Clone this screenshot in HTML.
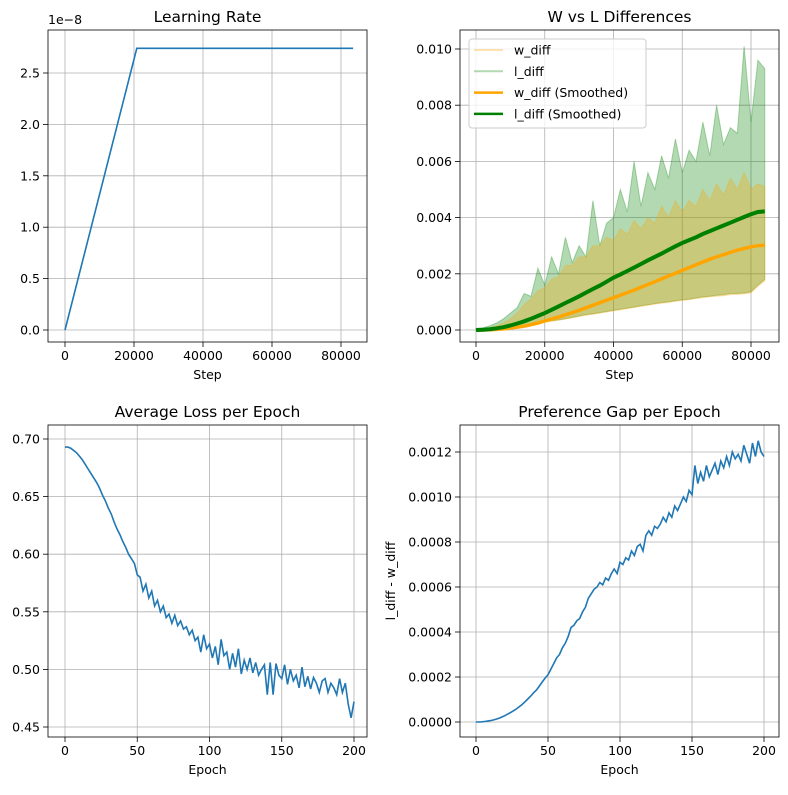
<!DOCTYPE html>
<html><head><meta charset="utf-8"><style>
body{margin:0;background:#fff;}
svg text{font-family:"DejaVu Sans","Liberation Sans",sans-serif;fill:#000;}
</style></head><body>
<svg id="fig" width="788" height="790" xmlns="http://www.w3.org/2000/svg"></svg>
<script>
// ---- data ----
const lrSteps=[0,20800,83500];
const lrVals=[0,2.74,2.74];
const diffSteps=[];for(let i=0;i<=42;i++)diffSteps.push(i*2000);
const lUpper=[0.05,0.08,0.15,0.25,0.4,0.6,0.8,1.3,1.2,2.2,1.6,2.6,2.0,3.3,2.4,3.0,2.6,4.6,3.0,3.8,4.0,5.0,4.2,6.0,4.4,5.6,5.0,6.2,5.4,6.8,5.6,6.4,6.0,7.4,6.2,8.0,6.6,7.2,7.0,10.1,7.4,9.6,9.3];
const lLower=[0,0.01,0.02,0.04,0.06,0.09,0.12,0.16,0.2,0.25,0.3,0.33,0.36,0.4,0.45,0.5,0.55,0.58,0.62,0.66,0.7,0.74,0.78,0.82,0.86,0.9,0.94,0.98,1.0,1.04,1.08,1.1,1.14,1.18,1.2,1.24,1.26,1.3,1.3,1.32,1.36,1.6,1.8];
const wUpper=[0.03,0.05,0.08,0.15,0.25,0.4,0.6,0.9,1.1,1.4,1.5,1.8,1.9,2.3,2.3,2.6,2.6,3.0,3.0,3.3,3.2,3.6,3.4,3.9,3.6,4.0,3.8,4.4,4.0,4.6,4.2,4.6,4.4,5.0,4.6,5.2,4.8,5.4,5.0,5.6,5.0,5.2,5.1];
const wLower=[0,0.01,0.02,0.03,0.05,0.08,0.11,0.15,0.19,0.24,0.28,0.31,0.35,0.39,0.43,0.48,0.52,0.56,0.6,0.64,0.68,0.72,0.76,0.8,0.84,0.88,0.92,0.95,0.98,1.02,1.05,1.08,1.12,1.15,1.18,1.2,1.22,1.26,1.27,1.28,1.32,1.55,1.75];
const lSmooth=[0,0.01,0.03,0.06,0.1,0.16,0.23,0.31,0.4,0.5,0.6,0.72,0.84,0.96,1.08,1.2,1.33,1.46,1.58,1.72,1.86,1.98,2.1,2.22,2.35,2.48,2.6,2.72,2.85,2.98,3.1,3.2,3.3,3.42,3.52,3.62,3.72,3.82,3.92,4.02,4.12,4.2,4.22];
const wSmooth=[0,0,0.01,0.02,0.04,0.07,0.1,0.14,0.19,0.25,0.32,0.39,0.46,0.54,0.62,0.7,0.79,0.88,0.97,1.06,1.15,1.24,1.33,1.42,1.52,1.62,1.72,1.82,1.92,2.02,2.12,2.22,2.32,2.42,2.52,2.6,2.68,2.76,2.84,2.9,2.96,3.0,3.02];
const lossVals=[0.693,0.693,0.692,0.690,0.688,0.685,0.682,0.678,0.674,0.670,0.666,0.662,0.657,0.651,0.646,0.640,0.635,0.628,0.622,0.617,0.611,0.606,0.600,0.596,0.592,0.582,0.580,0.568,0.574,0.562,0.568,0.555,0.560,0.550,0.555,0.545,0.548,0.540,0.547,0.538,0.542,0.535,0.537,0.530,0.534,0.525,0.528,0.515,0.530,0.518,0.522,0.510,0.520,0.504,0.526,0.512,0.515,0.500,0.514,0.502,0.518,0.496,0.508,0.500,0.510,0.497,0.506,0.495,0.500,0.504,0.478,0.506,0.478,0.505,0.495,0.492,0.504,0.487,0.500,0.490,0.495,0.484,0.502,0.485,0.494,0.483,0.493,0.488,0.480,0.490,0.492,0.480,0.488,0.484,0.478,0.492,0.480,0.488,0.470,0.458,0.472];
const gapVals=[0,0,0.01,0.02,0.04,0.06,0.09,0.13,0.17,0.22,0.28,0.35,0.42,0.5,0.58,0.68,0.78,0.9,1.02,1.15,1.3,
1.42,1.6,1.78,1.95,2.1,2.35,2.6,2.85,3.0,3.3,3.5,3.8,4.2,4.3,4.5,4.6,4.9,5.1,5.5,5.7,
5.9,6.0,6.2,6.1,6.4,6.3,6.6,6.8,6.6,7.1,7.0,7.3,7.2,7.6,7.4,7.8,7.9,7.6,8.3,8.5,
8.3,8.7,8.6,8.8,9.1,8.9,9.3,9.1,9.6,9.4,9.7,10.0,9.8,10.3,10.1,11.4,10.6,11.1,10.7,11.4,
10.9,11.2,11.5,11.0,11.6,11.3,11.8,11.4,12.0,11.7,11.9,11.6,12.3,11.9,11.5,12.4,11.8,12.5,12.0,11.8];
const lrTicksX=[0,20000,40000,60000,80000];const lrTicksY=[0,0.5,1.0,1.5,2.0,2.5];
const diffTicksX=[0,20000,40000,60000,80000];const diffTicksY=[0,2,4,6,8,10];
const lossTicksX=[0,50,100,150,200];const lossTicksY=[0.45,0.50,0.55,0.60,0.65,0.70];
const gapTicksX=[0,50,100,150,200];const gapTicksY=[0,2,4,6,8,10,12];

const NS="http://www.w3.org/2000/svg";const svg=document.getElementById('fig');
function el(t,a,p){const e=document.createElementNS(NS,t);for(const k in a)e.setAttribute(k,a[k]);(p||svg).appendChild(e);return e;}
function lin(p0,v0,p1,v1){return v=>p0+(v-v0)*(p1-p0)/(v1-v0);}
function panel(name,box,sx,sy,xt,yt,xfmt,yfmt,title,xlabel){
 const g=el('g',{});
 const [L,T,R,B]=box;
 xt.forEach(v=>{const x=sx(v);const l=el('line',{x1:x,x2:x,y1:T,y2:B,stroke:'#b0b0b0','stroke-width':0.8},g);
  el('line',{x1:x,x2:x,y1:B,y2:B+5,stroke:'#000','stroke-width':0.8},g);
  const t=el('text',{x:x,y:B+18,'font-size':12.5,'text-anchor':'middle'},g);t.textContent=xfmt(v);});
 yt.forEach(v=>{const y=sy(v);const l=el('line',{x1:L,x2:R,y1:y,y2:y,stroke:'#b0b0b0','stroke-width':0.8},g);
  el('line',{x1:L-5,x2:L,y1:y,y2:y,stroke:'#000','stroke-width':0.8},g);
  const t=el('text',{x:L-8,y:y+4.5,'font-size':12.5,'text-anchor':'end'},g);t.textContent=yfmt(v);});
 const tt=el('text',{x:(L+R)/2,y:T-8,'font-size':15.5,'text-anchor':'middle'},g);tt.textContent=title;
 const xl=el('text',{x:(L+R)/2,y:B+37,'font-size':12.5,'text-anchor':'middle'},g);xl.textContent=xlabel;
 const cp=el('clipPath',{id:'c'+name},g);el('rect',{x:L,y:T,width:R-L,height:B-T},cp);
 const inner=el('g',{'clip-path':'url(#c'+name+')'},g);
 return {g,inner,frame:()=>{const f=el('rect',{x:L,y:T,width:R-L,height:B-T,fill:'none',stroke:'#000','stroke-width':0.8},g);}};
}
function path(xs,ys,sx,sy){return xs.map((x,i)=>(i?'L':'M')+sx(x).toFixed(1)+' '+sy(ys[i]).toFixed(1)).join(' ');}
function band(xs,up,lo,sx,sy){let d=path(xs,up,sx,sy);for(let i=xs.length-1;i>=0;i--)d+=' L'+sx(xs[i]).toFixed(1)+' '+sy(lo[i]).toFixed(1);return d+' Z';}

// Panel 1
{const sx=lin(65,0,341,80000),sy=lin(330,0,73,2.5);
 const p=panel('learning-rate-panel',[48,30,367,342],sx,sy,lrTicksX,lrTicksY,v=>String(v),v=>v.toFixed(1),'Learning Rate','Step');
 const l=el('path',{d:path(lrSteps,lrVals,sx,sy),fill:'none',stroke:'#1f77b4','stroke-width':1.6},p.inner);
 p.frame();const o=el('text',{x:48,y:24,'font-size':12.5},p.g);o.textContent='1e\u22128';}
// Panel 2
{const sx=lin(476,0,751,80000),sy=lin(330,0,49,10);
 const p=panel('w-vs-l-panel',[460,30,779,342],sx,sy,diffTicksX,diffTicksY,v=>String(v),v=>(v/1000).toFixed(3),'W vs L Differences','Step');
 let e=el('path',{d:band(diffSteps,lUpper,lLower,sx,sy),fill:'green','fill-opacity':0.3,stroke:'green','stroke-opacity':0.3,'stroke-width':1},p.inner);
 e=el('path',{d:band(diffSteps,wUpper,wLower,sx,sy),fill:'orange','fill-opacity':0.3,stroke:'orange','stroke-opacity':0.3,'stroke-width':1},p.inner);
 e=el('path',{d:path(diffSteps,wSmooth,sx,sy),fill:'none',stroke:'orange','stroke-width':3.5},p.inner);
 e=el('path',{d:path(diffSteps,lSmooth,sx,sy),fill:'none',stroke:'green','stroke-width':4},p.inner);
 p.frame();
 const lg=el('g',{},p.g);
 el('rect',{x:469,y:39,width:177,height:89,rx:3,fill:'#fff','fill-opacity':0.8,stroke:'#ccc','stroke-width':1},lg);
 const ents=[['w_diff','orange',0.3,2],['l_diff','green',0.3,2],['w_diff (Smoothed)','orange',1,2.5],['l_diff (Smoothed)','green',1,2.5]];
 ents.forEach((en,i)=>{const y=50+i*21.3;const eg=el('g',{},lg);
  el('line',{x1:474,x2:503,y1:y,y2:y,stroke:en[1],'stroke-opacity':en[2],'stroke-width':en[3]},eg);
  const t=el('text',{x:514,y:y+4.5,'font-size':12.5},eg);t.textContent=en[0];});}
// Panel 3
{const sx=lin(65,0,354,200),sy=lin(439,0.70,727,0.45);
 const p=panel('average-loss-panel',[48,425,367,737],sx,sy,lossTicksX,lossTicksY,v=>String(v),v=>v.toFixed(2),'Average Loss per Epoch','Epoch');
 const xs=lossVals.map((_,i)=>i*2);
 const l=el('path',{d:path(xs,lossVals,sx,sy),fill:'none',stroke:'#1f77b4','stroke-width':1.6},p.inner);p.frame();}
// Panel 4
{const sx=lin(476,0,764,200),sy=lin(722,0,452,12);
 const p=panel('preference-gap-panel',[460,425,779,737],sx,sy,gapTicksX,gapTicksY,v=>String(v),v=>(v/10000).toFixed(4),'Preference Gap per Epoch','Epoch');
 const xs=gapVals.map((_,i)=>i*2);
 const l=el('path',{d:path(xs,gapVals,sx,sy),fill:'none',stroke:'#1f77b4','stroke-width':1.6},p.inner);p.frame();
 const yl=el('text',{x:395,y:581,'font-size':12.5,'text-anchor':'middle',transform:'rotate(-90 395 581)'},p.g);yl.textContent='l_diff - w_diff';}
</script>
</body></html>
